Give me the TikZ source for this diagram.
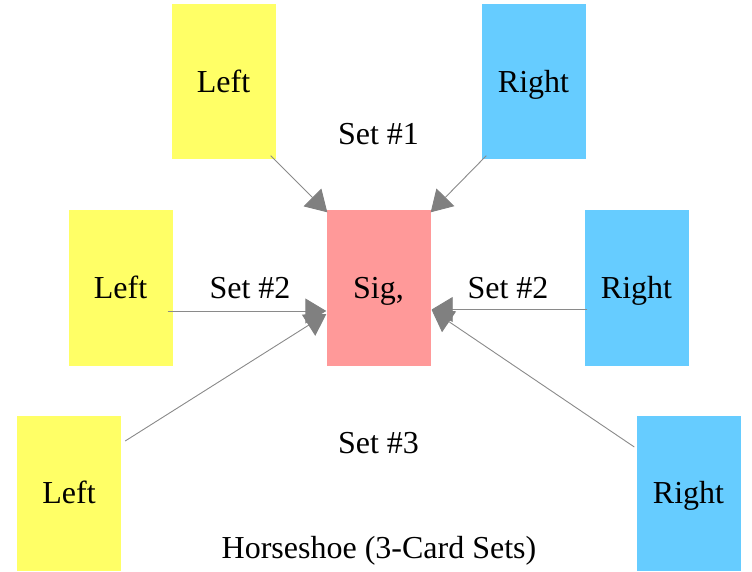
\documentclass[tikz,border=0pt]{standalone}
\usepackage{fontspec}
\setmainfont{Liberation Serif}
\usetikzlibrary{arrows.meta}
\definecolor{cardyellow}{HTML}{FFFF66}
\definecolor{cardblue}{HTML}{66CCFF}
\definecolor{cardpink}{HTML}{FF9999}
\definecolor{linkgray}{HTML}{8A8A8A}
\definecolor{headgray}{HTML}{808080}
\tikzset{
  card/.style={minimum width=104pt, minimum height=155pt, inner sep=0pt,
    text height=21pt, text depth=0pt, font=\fontsize{32}{37}\selectfont},
  leftcard/.style={card, fill=cardyellow},
  rightcard/.style={card, fill=cardblue},
  sigcard/.style={card, fill=cardpink},
  caption/.style={anchor=base, inner sep=0pt, font=\fontsize{32}{37}\selectfont},
  link/.style={draw=linkgray, line width=0.9pt,
    -{Triangle[length=21pt, width=25pt, fill=headgray, color=headgray]}}
}
\begin{document}
\begin{tikzpicture}[x=1pt, y=-1pt]
  \useasboundingbox (0,0) rectangle (752,572);

  % cards
  \node[leftcard]  (tl)  at (223.5,82)  {Left};
  \node[rightcard] (tr)  at (533.5,82)  {Right};
  \node[leftcard]  (ml)  at (120.5,288) {Left};
  \node[sigcard]   (sig) at (378.5,288) {Sig,};
  \node[rightcard] (mr)  at (636.5,288) {Right};
  \node[leftcard]  (bl)  at (69,493)    {Left};
  \node[rightcard] (br)  at (688.5,493) {Right};

  % set labels
  \node[caption] (s1)  at (378.5,145) {Set \#1};
  \node[caption] (s2l) at (250,298)   {Set \#2};
  \node[caption] (s2r) at (508,298)   {Set \#2};
  \node[caption] (s3)  at (378.5,453) {Set \#3};
  \node[caption] (ttl) at (379,558)   {Horseshoe (3-Card Sets)};

  % connectors into the significator
  \draw[link] ([shift={(-5,-4)}]tl.south east) -- ([shift={(1,2)}]sig.north west);
  \draw[link] ([shift={(5,-4)}]tr.south west)  -- ([shift={(0,2)}]sig.north east);
  \draw[link] ([shift={(-5,23)}]ml.east)       -- ([shift={(0,23)}]sig.west);
  \draw[link] ([shift={(3,21.5)}]mr.west)      -- ([shift={(1,21.5)}]sig.east);
  \draw[link] ([shift={(4,-52)}]bl.east)       -- ([shift={(0,26)}]sig.west);
  \draw[link] ([shift={(-2,-46)}]br.west)      -- ([shift={(1,22)}]sig.east);
\end{tikzpicture}
\end{document}
